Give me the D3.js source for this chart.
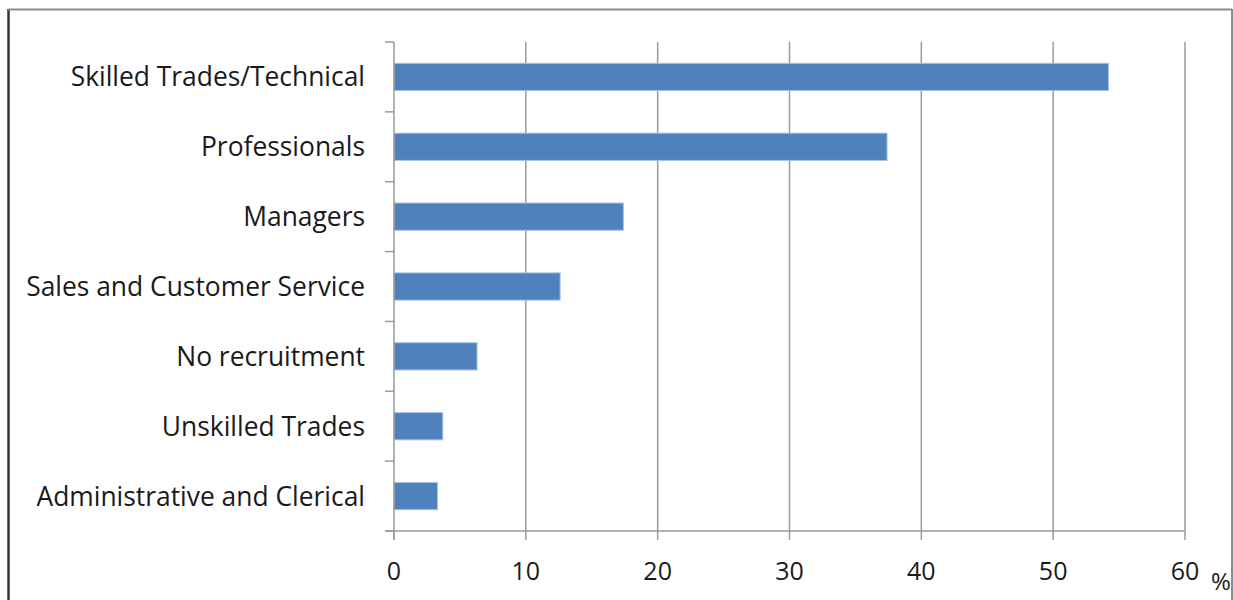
<!DOCTYPE html>
<html>
<head>
<meta charset="utf-8">
<script src="https://cdn.jsdelivr.net/npm/d3@7"></script>
<style>
  html, body { margin: 0; padding: 0; background: #fff; }
  svg { display: block; }
  text { fill: #1a1a1a; }
</style>
</head>
<body>
<svg id="chart" width="1233" height="600"></svg>
<script>
// Occupations recruited for (%), top to bottom
const categories = [
  "Skilled Trades/Technical",
  "Professionals",
  "Managers",
  "Sales and Customer Service",
  "No recruitment",
  "Unskilled Trades",
  "Administrative and Clerical"
];
const values = [54.2, 37.4, 17.4, 12.6, 6.3, 3.7, 3.3];
const xTicks = [0, 10, 20, 30, 40, 50, 60];
const unitLabel = "%";

const svg = d3.select("#chart");
const W = 1233, H = 600;

// chart frame
svg.append("line").attr("x1", 8.5).attr("x2", 8.5).attr("y1", 9).attr("y2", H)
  .attr("stroke", "#333").attr("stroke-width", 2.5);
svg.append("line").attr("x1", 8).attr("x2", 1232).attr("y1", 9.5).attr("y2", 9.5)
  .attr("stroke", "#8c8c8c").attr("stroke-width", 2);
svg.append("line").attr("x1", 1232).attr("x2", 1232).attr("y1", 9).attr("y2", H)
  .attr("stroke", "#8c8c8c").attr("stroke-width", 2);

const plot = { left: 394, right: 1185, top: 42, bottom: 531 };

const x = d3.scaleLinear().domain([0, 60]).range([plot.left, plot.right]);
const y = d3.scaleBand().domain(categories).range([plot.top, plot.bottom])
  .paddingInner(0.61).paddingOuter(0.305);
const yEdges = d3.scaleLinear().domain([0, categories.length]).range([plot.top, plot.bottom]);

const grid = "#9a9a9a";
const font = "'Open Sans', sans-serif";

// vertical gridlines
svg.append("g").selectAll("line").data(xTicks.slice(1)).join("line")
  .attr("x1", d => x(d)).attr("x2", d => x(d))
  .attr("y1", plot.top).attr("y2", plot.bottom)
  .attr("stroke", grid).attr("stroke-width", 1.5);

// bars
svg.append("g").selectAll("rect").data(categories).join("rect")
  .attr("x", x(0))
  .attr("y", d => y(d))
  .attr("width", (d, i) => x(values[i]) - x(0))
  .attr("height", y.bandwidth())
  .attr("fill", "#4f81bd")
  .attr("stroke", "#a9c1e0")
  .attr("stroke-width", 1);

// category axis with tick marks between categories
svg.append("line").attr("x1", plot.left).attr("x2", plot.left)
  .attr("y1", plot.top).attr("y2", plot.bottom + 9)
  .attr("stroke", grid).attr("stroke-width", 1.5);
svg.append("g").selectAll("line").data(d3.range(categories.length + 1)).join("line")
  .attr("x1", plot.left - 9).attr("x2", plot.left)
  .attr("y1", d => yEdges(d)).attr("y2", d => yEdges(d))
  .attr("stroke", grid).attr("stroke-width", 1.5);
svg.append("g").selectAll("text").data(categories).join("text")
  .attr("x", plot.left - 29)
  .attr("y", d => y(d) + y.bandwidth() / 2)
  .attr("dy", "0.36em")
  .attr("text-anchor", "end")
  .attr("font-family", font)
  .attr("font-size", 26.4)
  .text(d => d);

// value axis
svg.append("line").attr("x1", plot.left - 9).attr("x2", plot.right)
  .attr("y1", plot.bottom).attr("y2", plot.bottom)
  .attr("stroke", grid).attr("stroke-width", 1.5);
svg.append("g").selectAll("line").data(xTicks).join("line")
  .attr("x1", d => x(d)).attr("x2", d => x(d))
  .attr("y1", plot.bottom).attr("y2", plot.bottom + 9)
  .attr("stroke", grid).attr("stroke-width", 1.5);
svg.append("g").selectAll("text").data(xTicks).join("text")
  .attr("x", d => x(d))
  .attr("y", 580)
  .attr("text-anchor", "middle")
  .attr("font-family", font)
  .attr("font-size", 25)
  .text(d => d);
svg.append("text").attr("x", 1221).attr("y", 590)
  .attr("text-anchor", "middle")
  .attr("font-family", font)
  .attr("font-size", 24).text(unitLabel);
</script>
</body>
</html>
